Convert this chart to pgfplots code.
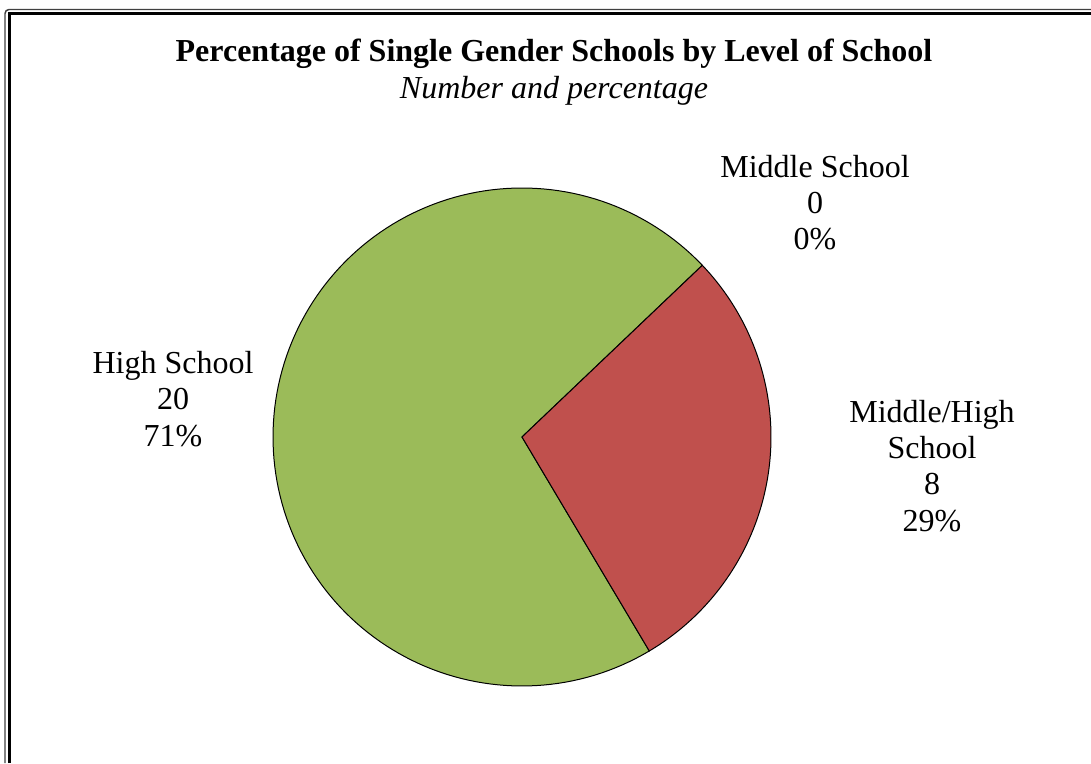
\documentclass[border=0pt]{standalone}
\usepackage{pgfplots}
\pgfplotsset{compat=1.18}
\usepackage{pgfplotstable}
\usepackage{fontspec}
\setmainfont{Liberation Serif}
\definecolor{pieGreen}{RGB}{155,187,89}
\definecolor{pieRed}{RGB}{192,80,77}
\pgfplotstableread{
label value
MiddleSchool 0
MiddleHigh 8
HighSchool 20
}\piedata

\begin{document}
\begin{tikzpicture}
\pgfplotstablegetelem{0}{value}\of\piedata \let\vMS\pgfplotsretval
\pgfplotstablegetelem{1}{value}\of\piedata \let\vMH\pgfplotsretval
\pgfplotstablegetelem{2}{value}\of\piedata \let\vHS\pgfplotsretval
\pgfmathsetmacro\total{\vMS+\vMH+\vHS}
\pgfmathsetmacro\aStart{43.6}
\pgfmathsetmacro\aA{\aStart-\vMS/\total*360}
\pgfmathsetmacro\aB{\aA-\vMH/\total*360}
\pgfmathsetmacro\aC{\aB-\vHS/\total*360}
\begin{axis}[scale only axis, width=818.25pt, height=572.25pt,
  xmin=0, xmax=1091, ymin=0, ymax=763, hide axis, clip=false]
\coordinate (bl) at (axis cs:0,0);
\coordinate (tr) at (axis cs:1091,763);
% frame
\draw[black!75, line width=1.1pt, rounded corners=3pt] (axis cs:5,0) -- (axis cs:5,753.5) -- (axis cs:1091,753.5);
\draw[black, line width=2.25pt] (axis cs:9.5,0) -- (axis cs:9.5,749) -- (axis cs:1091,749);
% pie
\addplot[fill=pieGreen, draw=black, line width=0.75pt, domain=\aC:\aB, samples=150, variable=\t]
  ({522+249*cos(\t)},{326+249*sin(\t)}) -- (axis cs:522,326) -- cycle;
\addplot[fill=pieRed, draw=black, line width=0.75pt, domain=\aB:\aA, samples=80, variable=\t]
  ({522+249*cos(\t)},{326+249*sin(\t)}) -- (axis cs:522,326) -- cycle;
% titles
\node[anchor=base, inner sep=0pt, font=\fontsize{24}{27.75}\selectfont\bfseries] at (axis cs:554,701) {Percentage of Single Gender Schools by Level of School};
\node[anchor=base, inner sep=0pt, font=\fontsize{24}{27.75}\selectfont\itshape] at (axis cs:554,664) {Number and percentage};
% labels
\begin{scope}[every node/.style={anchor=base, inner sep=0pt, font=\fontsize{24}{27.75}\selectfont}]
\node at (axis cs:815,585.7) {Middle School};
\node at (axis cs:815,549) {0};
\node at (axis cs:815,513) {0\%};
\node at (axis cs:173,389.7) {High School};
\node at (axis cs:173,353) {20};
\node at (axis cs:173,316.3) {71\%};
\node at (axis cs:932,340.7) {Middle/High};
\node at (axis cs:932,304) {School};
\node at (axis cs:932,268) {8};
\node at (axis cs:932,231.3) {29\%};
\end{scope}
\end{axis}
\pgfresetboundingbox
\path[use as bounding box] (bl) rectangle (tr);
\end{tikzpicture}
\end{document}
